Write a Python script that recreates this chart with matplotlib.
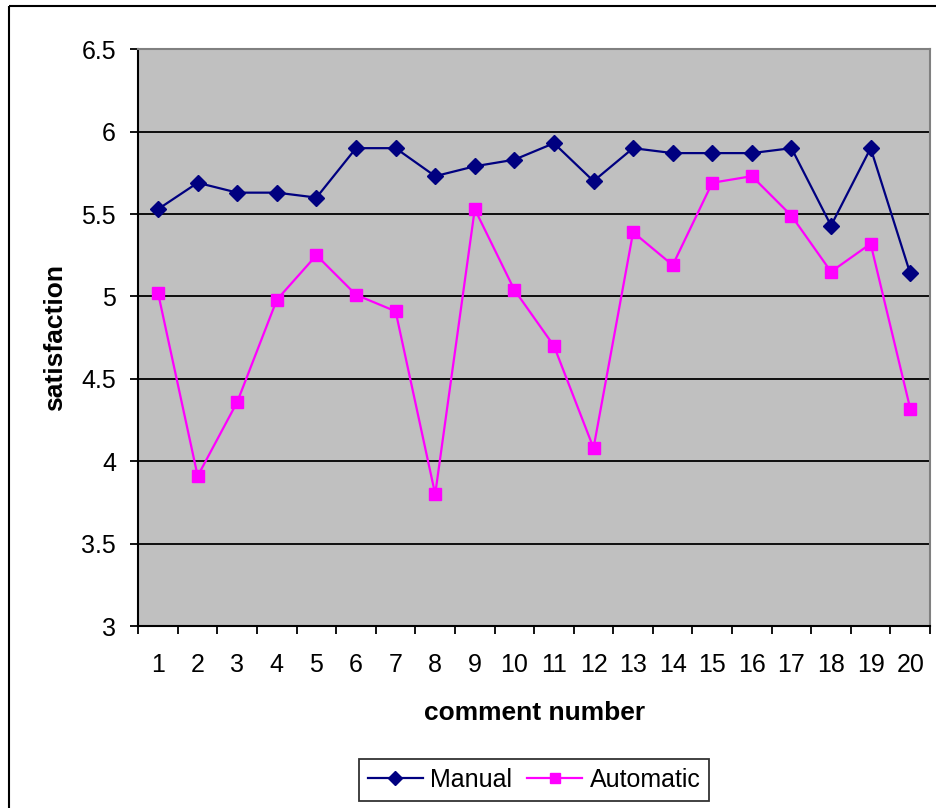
import matplotlib
matplotlib.use("Agg")
import matplotlib.pyplot as plt
from matplotlib.patches import Rectangle
from matplotlib.ticker import FixedLocator

plt.rcParams['font.family'] = ['Liberation Sans', 'DejaVu Sans']

comments = list(range(1, 21))
manual = [5.53, 5.69, 5.63, 5.63, 5.60, 5.90, 5.90, 5.73, 5.79, 5.83,
          5.93, 5.70, 5.90, 5.87, 5.87, 5.87, 5.90, 5.43, 5.90, 5.14]
automatic = [5.02, 3.91, 4.36, 4.98, 5.25, 5.01, 4.91, 3.80, 5.53, 5.04,
             4.70, 4.08, 5.39, 5.19, 5.69, 5.73, 5.49, 5.15, 5.32, 4.32]
y_ticks = [3, 3.5, 4, 4.5, 5, 5.5, 6, 6.5]

W, H = 936, 808
fig = plt.figure(figsize=(W / 100, H / 100), dpi=100)
fig.patch.set_facecolor('white')

# chart-area frame
fig.patches.append(Rectangle((9 / W, 1 - 6 / H), (W + 20) / W, -(H + 20) / H,
                             transform=fig.transFigure, fill=False,
                             edgecolor='black', linewidth=1.5, zorder=0))

left, right = 138.3 / W, 930 / W
top, bottom = 1 - 49.3 / H, 1 - 626 / H
ax = fig.add_axes([left, bottom, right - left, top - bottom])
ax.set_facecolor('#C0C0C0')

ax.plot(comments, manual, color='#000080', marker='D', markersize=8.5,
        linewidth=1.6, label='Manual', zorder=3)
ax.plot(comments, automatic, color='#FF00FF', marker='s', markersize=9,
        linewidth=1.6, label='Automatic', zorder=3)

ax.set_xlim(0.5, 20.5)
ax.set_ylim(3, 6.5)
ax.set_yticks(y_ticks)
ax.set_yticklabels([f'{v:g}' for v in y_ticks])
ax.yaxis.grid(True, color='black', linewidth=1.3)
ax.set_axisbelow(True)

ax.xaxis.set_major_locator(FixedLocator(comments))
ax.set_xticklabels([str(c) for c in comments])
ax.xaxis.set_minor_locator(FixedLocator([c + 0.5 for c in range(0, 21)]))
ax.tick_params(axis='x', which='major', length=0, pad=19.5, labelsize=18)
ax.tick_params(axis='x', which='minor', length=6, width=1.3, direction='out')
ax.tick_params(axis='y', length=6, width=1.3, direction='out', pad=10, labelsize=18)

for side in ('left', 'bottom'):
    ax.spines[side].set_color('black')
    ax.spines[side].set_linewidth(1.5)
for side in ('top', 'right'):
    ax.spines[side].set_color('#808080')
    ax.spines[side].set_linewidth(1.5)

ax.set_xlabel('comment number', fontsize=19, fontweight='bold', labelpad=17)
ax.set_ylabel('satisfaction', fontsize=19, fontweight='bold', labelpad=10)

leg = ax.legend(loc='upper center', bbox_to_anchor=(0.5, -0.209), ncol=2,
                fontsize=18, frameon=True, fancybox=False, edgecolor='black',
                handlelength=2.2, handletextpad=0.3, columnspacing=0.6,
                borderpad=0.35, markerscale=0.8)
leg.get_frame().set_linewidth(1.3)

fig.savefig('out.png', dpi=100, facecolor='white')
